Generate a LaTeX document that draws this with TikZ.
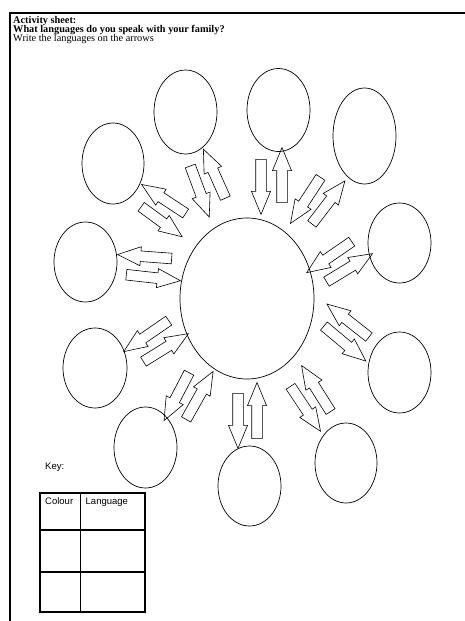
\documentclass[tikz,border=0pt]{standalone}
\usepackage{fontspec}
\setmainfont{Liberation Serif}
\setsansfont{Liberation Sans}
\usetikzlibrary{shapes.geometric,shapes.arrows,calc,positioning}

% block arrow from tail to tip: name, tail, tip
\newcommand{\langarrow}[3]{%
  \path let \p1=($(#3)-(#2)$), \n1={atan2(\y1,\x1)}, \n2={veclen(\x1,\y1)} in
    node[langarrow, minimum height=\n2, rotate=\n1] (#1) at ($(#2)!0.5!(#3)$) {};}

\begin{document}
\begin{tikzpicture}[x=1pt, y=-1pt,
  bubble/.style={draw, ellipse, line width=0.7pt, inner sep=0pt},
  langarrow/.style={draw, single arrow, line width=0.6pt, inner xsep=0pt, inner ysep=5pt,
                    single arrow head extend=4.25pt, single arrow tip angle=45},
  heading/.style={anchor=base west, inner sep=0pt, font=\fontsize{10.3}{12}\selectfont},
  keytext/.style={anchor=base west, inner sep=0pt, font=\sffamily\fontsize{9.5}{11}\selectfont}]
\useasboundingbox (0,0) rectangle (465,621);
% page frame
\draw[line width=1.3pt] (465,13) -- (10,13) -- (10,621);
% heading
\node[heading] (title) at (13,23.5) {\textbf{Activity sheet:}};
\node[heading] (question) at (13,32.5) {\textbf{What languages do you speak with your family?}};
\node[heading] (instruction) at (13,41.5) {Write the languages on the arrows};

% you in the middle, family around
\node[bubble, minimum width=134pt, minimum height=161pt] (family) at (247,298.5) {};
\node[bubble, minimum width=63pt, minimum height=84pt] (e1) at (185.5,112) {};
\node[bubble, minimum width=63pt, minimum height=83pt] (e2) at (278.5,110) {};
\node[bubble, minimum width=63pt, minimum height=96pt] (e3) at (364.5,136) {};
\node[bubble, minimum width=63pt, minimum height=80pt] (e4) at (399.5,243) {};
\node[bubble, minimum width=63pt, minimum height=81pt] (e5) at (399.5,372.5) {};
\node[bubble, minimum width=62pt, minimum height=80pt] (e6) at (346,463) {};
\node[bubble, minimum width=63pt, minimum height=80pt] (e7) at (249.5,486) {};
\node[bubble, minimum width=63pt, minimum height=81pt] (e8) at (145.5,447.5) {};
\node[bubble, minimum width=64pt, minimum height=80pt] (e9) at (95,368) {};
\node[bubble, minimum width=63pt, minimum height=80pt] (e10) at (85.5,262) {};
\node[bubble, minimum width=62pt, minimum height=81pt] (e11) at (113,163.5) {};

% arrow pairs
\langarrow{in1}{188,160}{207,211}  \langarrow{out1}{228,204}{206,155}
\langarrow{in2}{261,153}{261,208}  \langarrow{out2}{282,209}{282,154}
\langarrow{in3}{324,172}{294,218}  \langarrow{out3}{308,229}{341,186}
\langarrow{in4}{357,238}{312,269}  \langarrow{out4}{321,285}{367,257}
\langarrow{in5}{374,341}{332,308}  \langarrow{out5}{319,322}{361,357}
\langarrow{in6}{334,417}{305,371}  \langarrow{out6}{287,381}{317,426}
\langarrow{in7}{257,445}{257,389}  \langarrow{out7}{238,387}{238,442}
\langarrow{in8}{183,425}{210,377}  \langarrow{out8}{192,367}{167,415}
\langarrow{in9}{138,365}{183,337}  \langarrow{out9}{174,317}{129,348}
\langarrow{in10}{120,274}{174,280} \langarrow{out10}{178,259}{124,255}
\langarrow{in11}{136,203}{177,233} \langarrow{out11}{191,217}{147,188}

% key table
\node[keytext] (key) at (45,469) {Key:};
\draw[line width=1.5pt] (40,493) rectangle (145,612);
\draw[line width=0.9pt] (80,493) -- (80,612);
\draw[line width=2.3pt] (40,530) -- (145,530);
\draw[line width=1.3pt] (40,572) -- (145,572);
\node[keytext] (colour) at (45,504) {Colour};
\node[keytext] (language) at (85.5,504) {Language};
\end{tikzpicture}
\end{document}
